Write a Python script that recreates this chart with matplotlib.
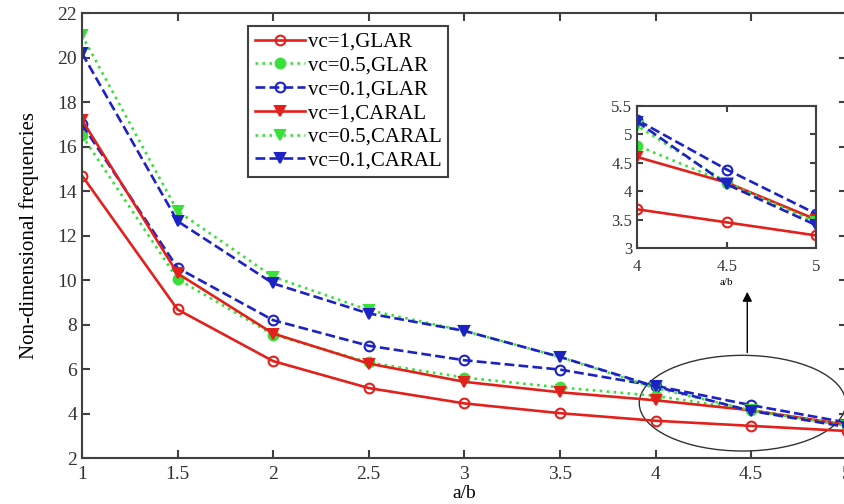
import numpy as np
import matplotlib
matplotlib.use("agg")
import matplotlib.pyplot as plt
from matplotlib.patches import Ellipse

plt.rcParams['font.family'] = ['Liberation Serif', 'DejaVu Serif']

ab = [1, 1.5, 2, 2.5, 3, 3.5, 4, 4.5, 5]

glar_vc1 = [14.7, 8.68, 6.36, 5.15, 4.46, 4.02, 3.68, 3.45, 3.22]
glar_vc05 = [16.5, 10.05, 7.55, 6.3, 5.62, 5.18, 4.8, 4.15, 3.48]
glar_vc01 = [17.0, 10.55, 8.2, 7.05, 6.4, 5.98, 5.25, 4.38, 3.6]
caral_vc1 = [17.2, 10.3, 7.6, 6.25, 5.43, 4.96, 4.6, 4.15, 3.5]
caral_vc05 = [21.0, 13.1, 10.15, 8.65, 7.72, 6.55, 5.15, 4.15, 3.45]
caral_vc01 = [20.2, 12.65, 9.85, 8.5, 7.72, 6.55, 5.22, 4.12, 3.4]

labels = ["vc=1,GLAR", "vc=0.5,GLAR", "vc=0.1,GLAR",
          "vc=1,CARAL", "vc=0.5,CARAL", "vc=0.1,CARAL"]

RED = "#e3201c"
GREEN = "#3ae03a"
BLUE = "#1c22c4"
AXC = "#404040"

series = [
    (glar_vc1, RED, "-", "o"),
    (glar_vc05, GREEN, ":", "o"),
    (glar_vc01, BLUE, "--", "o"),
    (caral_vc1, RED, "-", "v"),
    (caral_vc05, GREEN, ":", "v"),
    (caral_vc01, BLUE, "--", "v"),
]


def style_axes(ax, fs):
    for sp in ax.spines.values():
        sp.set_color(AXC)
        sp.set_linewidth(1.5)
    ax.tick_params(direction="in", colors=AXC, labelcolor="#333333",
                   labelsize=fs, width=1.5, length=6,
                   top=True, right=True)


def draw(ax, ms, lw):
    for (vals, col, ls, mk), lab in zip(series, labels):
        filled = mk == "v" or col == GREEN
        ax.plot(ab, vals, color=col, linestyle=ls, linewidth=lw,
                marker=mk, markersize=ms, markeredgewidth=1.5,
                markerfacecolor=col if filled else "none",
                markeredgecolor=col, label=lab)


fig = plt.figure(figsize=(8.45, 5.04), dpi=100)
ax = fig.add_axes([0.097, 0.091, 0.905, 0.883])
draw(ax, 7, 1.9)
ax.set_xlim(1, 5)
ax.set_ylim(2, 22)
ax.set_xticks([1, 1.5, 2, 2.5, 3, 3.5, 4, 4.5, 5])
ax.set_xticklabels(["1", "1.5", "2", "2.5", "3", "3.5", "4", "4.5", "5"])
ax.set_yticks(range(2, 23, 2))
style_axes(ax, 14)
ax.tick_params(axis="x", pad=6)
ax.set_xlabel("a/b", fontsize=14, labelpad=1)
ax.set_ylabel("Non-dimensional frequencies", fontsize=15, labelpad=13)

leg = ax.legend(loc="upper left", bbox_to_anchor=(0.212, 0.98), fontsize=15,
                handlelength=2.4, handletextpad=0.15, labelspacing=0.2,
                borderpad=0.3, borderaxespad=0.2, fancybox=False,
                framealpha=1)
leg.get_frame().set_edgecolor(AXC)
leg.get_frame().set_linewidth(1.5)

ell = Ellipse((4.455, 4.47), 1.08, 4.3, fill=False, edgecolor="#333333",
              linewidth=1.0)
ax.add_patch(ell)
ax.annotate("", xy=(4.48, 9.6), xytext=(4.48, 6.62),
            arrowprops=dict(arrowstyle="-|>", color="black", lw=1.0,
                            mutation_scale=14))

ins = fig.add_axes([0.754, 0.508, 0.212, 0.282])
draw(ins, 7, 1.9)
ins.set_xlim(4, 5)
ins.set_ylim(3, 5.5)
ins.set_xticks([4, 4.5, 5])
ins.set_xticklabels(["4", "4.5", "5"])
ins.set_yticks([3, 3.5, 4, 4.5, 5, 5.5])
ins.set_yticklabels(["3", "3.5", "4", "4.5", "5", "5.5"])
style_axes(ins, 12)
ins.tick_params(length=4)
ins.tick_params(axis="x", pad=8)
ins.set_xlabel("a/b", fontsize=8, labelpad=2)

fig.savefig("out.png", dpi=100)
